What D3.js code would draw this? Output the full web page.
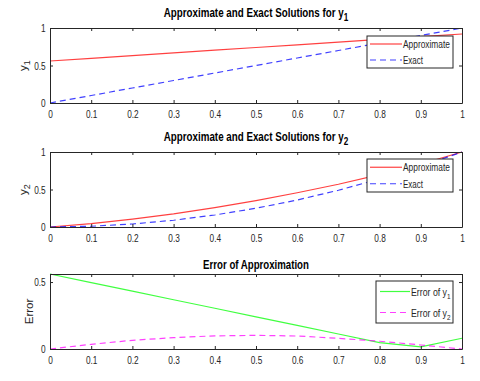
<!DOCTYPE html>
<html>
<head>
<meta charset="utf-8">
<script src="https://cdn.jsdelivr.net/npm/d3@7"></script>
<style>
body { margin: 0; background: #fff; }
text { font-family: "Liberation Sans", Arial, sans-serif; }
</style>
</head>
<body>
<div id="chart"></div>
<script>
// data
var xs = [0, 0.1, 0.2, 0.3, 0.4, 0.5, 0.6, 0.7, 0.8, 0.9, 1];
var approxY1 = [0.56, 0.596, 0.632, 0.668, 0.704, 0.74, 0.776, 0.812, 0.848, 0.884, 0.92];
var exactY1 = [0, 0.1, 0.2, 0.3, 0.4, 0.5, 0.6, 0.7, 0.8, 0.9, 1];
var approxY2 = [0, 0.045, 0.105, 0.175, 0.258, 0.352, 0.457, 0.57, 0.698, 0.84, 1];
var exactY2 = [0, 0.01, 0.04, 0.09, 0.16, 0.25, 0.36, 0.49, 0.64, 0.81, 1];
var errY1 = [0.56, 0.496, 0.432, 0.368, 0.304, 0.24, 0.176, 0.112, 0.048, 0.016, 0.08];
var errY2 = [0, 0.035, 0.065, 0.085, 0.098, 0.102, 0.097, 0.08, 0.058, 0.03, 0];
var xTicks = [0, 0.1, 0.2, 0.3, 0.4, 0.5, 0.6, 0.7, 0.8, 0.9, 1];

var width = 480, height = 381;
var svg = d3.select("#chart").append("svg")
  .attr("width", width)
  .attr("height", height);

var axisColor = "#262626";
var left = 50, right = 462;

var x = d3.scaleLinear().domain([0, 1]).range([left, right]);

// the original uses a condensed font: squeeze text to the width it has there
function fitText(parent, px, py, anchor, targetW) {
  var holder = parent.append("g");
  var txt = holder.append("text").attr("text-anchor", anchor);
  return {
    text: txt,
    fit: function() {
      var w = txt.node().getBBox().width;
      var sx = w > 0 ? targetW / w : 1;
      holder.attr("transform", "translate(" + px + "," + py + ") scale(" + sx + ",1)");
    }
  };
}

var panels = [
  { top: 28, bottom: 103, ymax: 1, yTicks: [0, 0.5, 1], title: "Approximate and Exact Solutions for y", sub: "1",
    titleW: 185, ylab: "y", ylabSub: "1", ylabX: 27,
    series: [
      { vals: approxY1, color: "#ff0000", dash: null, name: "Approximate", nameW: 47 },
      { vals: exactY1, color: "#0000ff", dash: "6,4", name: "Exact", nameW: 20 }
    ],
    legend: { x0: 367, x1: 453, y0: 36, y1: 68, lx0: 3, lx1: 35 } },
  { top: 152, bottom: 227, ymax: 1, yTicks: [0, 0.5, 1], title: "Approximate and Exact Solutions for y", sub: "2",
    titleW: 185, ylab: "y", ylabSub: "2", ylabX: 27,
    series: [
      { vals: approxY2, color: "#ff0000", dash: null, name: "Approximate", nameW: 47 },
      { vals: exactY2, color: "#0000ff", dash: "6,4", name: "Exact", nameW: 20 }
    ],
    legend: { x0: 367, x1: 453, y0: 159, y1: 192, lx0: 3, lx1: 35 } },
  { top: 274, bottom: 349, ymax: 0.56, yTicks: [0, 0.5], title: "Error of Approximation", sub: null,
    titleW: 106, ylab: "Error", ylabSub: null, ylabX: 33,
    series: [
      { vals: errY1, color: "#00ff00", dash: null, name: "Error of y", nameSub: "1", nameW: 40 },
      { vals: errY2, color: "#ff00ff", dash: "6,4", name: "Error of y", nameSub: "2", nameW: 40 }
    ],
    legend: { x0: 376, x1: 453, y0: 281, y1: 323, lx0: 4, lx1: 34 } }
];

panels.forEach(function(p) {
  var y = d3.scaleLinear().domain([0, p.ymax]).range([p.bottom, p.top]);
  var g = svg.append("g");

  // lines
  p.series.forEach(function(s) {
    var line = d3.line()
      .x(function(d, i) { return x(xs[i]); })
      .y(function(d) { return y(d); });
    g.append("path")
      .datum(s.vals)
      .attr("d", line)
      .attr("fill", "none")
      .attr("stroke", s.color)
      .attr("stroke-width", 1.2)
      .attr("stroke-opacity", 0.75)
      .attr("stroke-dasharray", s.dash);
  });

  // axes (ticks inside, box on)
  var fmt = function(d) { return d3.format("")(d); };
  var ba = g.append("g").attr("transform", "translate(0," + p.bottom + ")")
    .call(d3.axisBottom(x).tickValues(xTicks).tickSizeInner(-3).tickSizeOuter(0).tickPadding(7).tickFormat(fmt));
  var ta = g.append("g").attr("transform", "translate(0," + p.top + ")")
    .call(d3.axisTop(x).tickValues(xTicks).tickSizeInner(-3).tickSizeOuter(0).tickFormat(""));
  var la = g.append("g").attr("transform", "translate(" + left + ",0)")
    .call(d3.axisLeft(y).tickValues(p.yTicks).tickSizeInner(-3).tickSizeOuter(0).tickPadding(6).tickFormat(fmt));
  var ra = g.append("g").attr("transform", "translate(" + right + ",0)")
    .call(d3.axisRight(y).tickValues(p.yTicks).tickSizeInner(-3).tickSizeOuter(0).tickFormat(""));

  [ba, ta, la, ra].forEach(function(a) {
    a.select(".domain").attr("stroke", axisColor).attr("stroke-width", 1);
    a.selectAll(".tick line").attr("stroke", axisColor);
    a.selectAll("text").attr("fill", axisColor)
      .attr("transform", "scale(0.72,1)")
      .style("font-size", "11.5px")
      .style("font-family", "'Liberation Sans', Arial, sans-serif");
  });

  // title
  var tt = fitText(g, (left + right) / 2, p.sub ? p.top - 11 : p.top - 5, "middle", p.titleW);
  tt.text
    .attr("font-weight", "bold")
    .attr("font-size", "12px")
    .attr("fill", "#000")
    .text(p.title);
  if (p.sub) {
    tt.text.append("tspan").attr("dy", 4).attr("font-size", "10px").text(p.sub);
  }
  tt.fit();

  // y label
  var yl = g.append("text")
    .attr("transform", "translate(" + p.ylabX + "," + ((p.top + p.bottom) / 2) + ") rotate(-90)")
    .attr("text-anchor", "middle")
    .attr("font-size", "11.5px")
    .attr("fill", axisColor)
    .text(p.ylab);
  if (p.ylabSub) {
    yl.append("tspan").attr("dy", 3).attr("font-size", "9px").text(p.ylabSub);
  }

  // legend
  var L = p.legend;
  var lg = g.append("g");
  lg.append("rect")
    .attr("x", L.x0).attr("y", L.y0)
    .attr("width", L.x1 - L.x0).attr("height", L.y1 - L.y0)
    .attr("fill", "#fff").attr("stroke", axisColor).attr("stroke-width", 1);
  var rowH = (L.y1 - L.y0) / 2;
  p.series.forEach(function(s, i) {
    var cy = L.y0 + rowH * (i + 0.5);
    lg.append("line")
      .attr("x1", L.x0 + L.lx0).attr("x2", L.x0 + L.lx1)
      .attr("y1", cy).attr("y2", cy)
      .attr("stroke", s.color).attr("stroke-width", 1.2)
      .attr("stroke-opacity", 0.75)
      .attr("stroke-dasharray", s.dash);
    var lt = fitText(lg, L.x0 + L.lx1 + 1, cy + 4, "start", s.nameW);
    lt.text
      .attr("font-size", "11px")
      .attr("fill", axisColor)
      .text(s.name);
    if (s.nameSub) {
      lt.text.append("tspan").attr("dy", 3).attr("font-size", "8px").text(s.nameSub);
    }
    lt.fit();
  });
});
</script>
</body>
</html>
